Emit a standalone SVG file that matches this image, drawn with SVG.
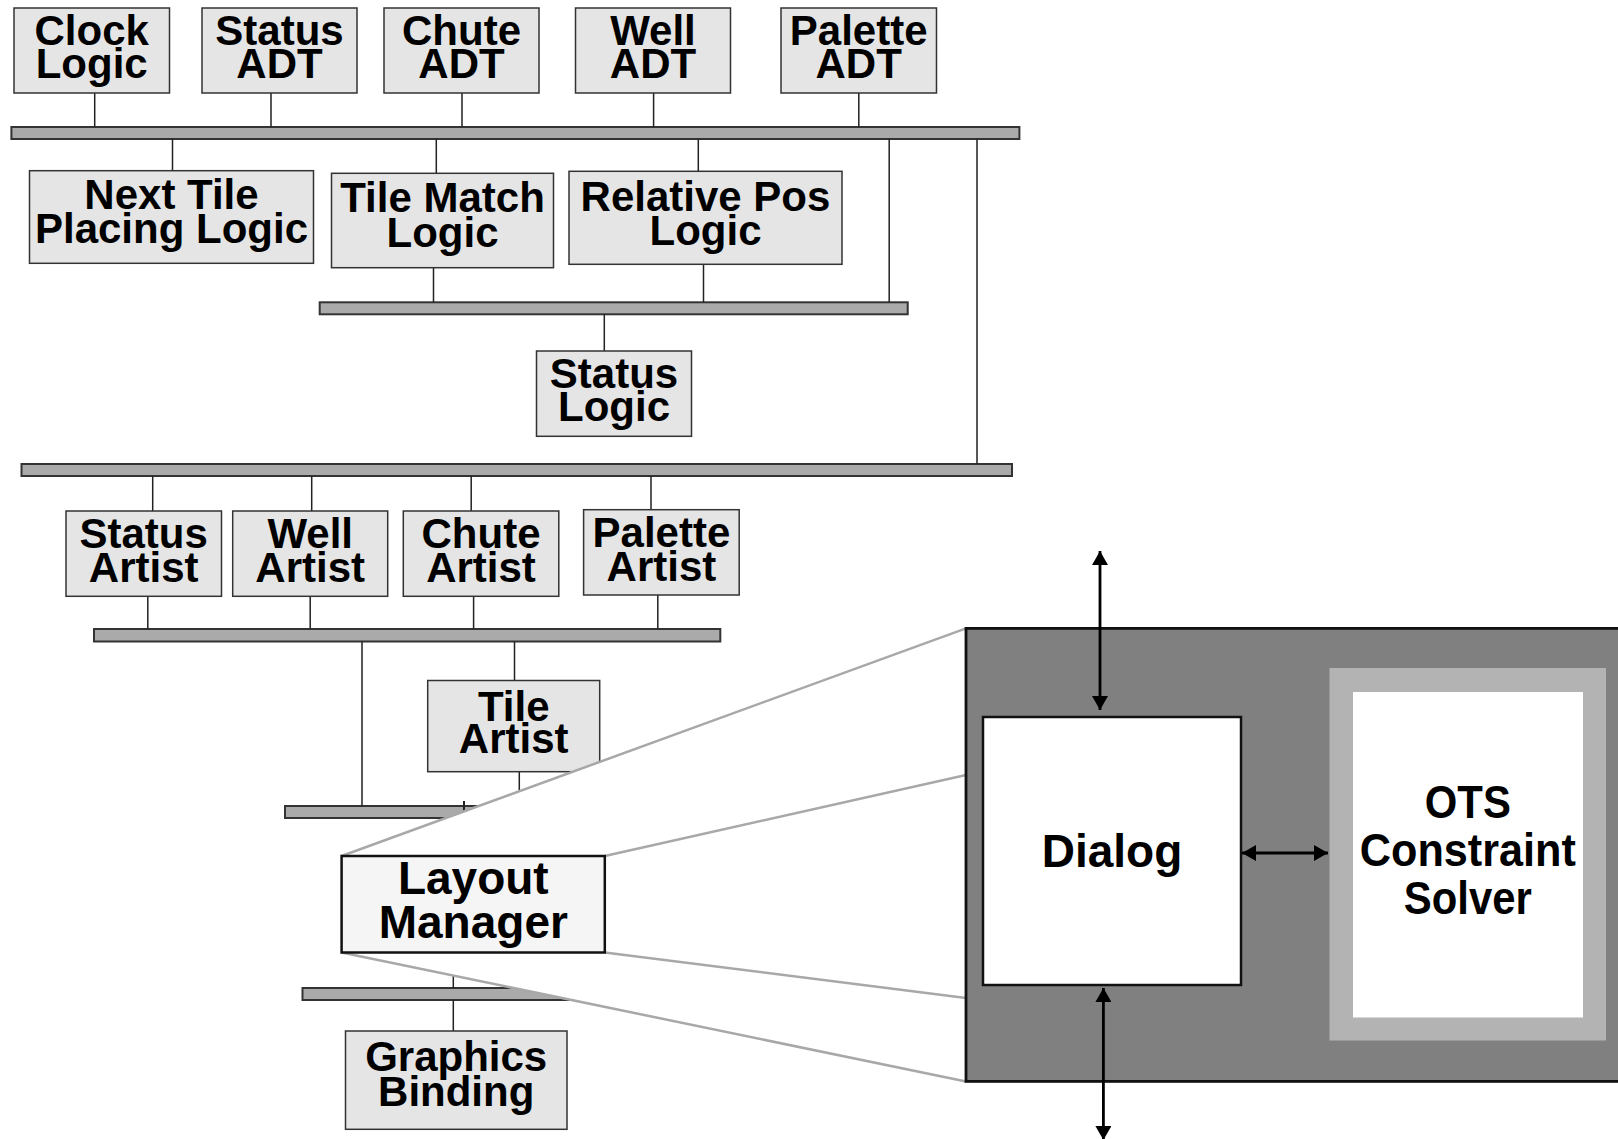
<svg xmlns="http://www.w3.org/2000/svg" width="1618" height="1139" viewBox="0 0 1618 1139">
<style>
.box{fill:#e5e5e5;stroke:#333;stroke-width:1.5}
.bus{fill:#aaa;stroke:#333;stroke-width:2}
.conn{stroke:#222;stroke-width:1.5;fill:none}
.t{font-family:"Liberation Sans",Arial,sans-serif;font-weight:bold;font-size:42px;text-anchor:middle;fill:#000}
.zoom{stroke:#a8a8a8;stroke-width:2.5;fill:none}
.arr{stroke:#000;stroke-width:2.8;fill:none}
</style>
<defs>
<marker id="ah" viewBox="0 0 14 16" refX="14" refY="8" markerWidth="14" markerHeight="16" markerUnits="userSpaceOnUse" orient="auto-start-reverse">
<path d="M0,0 L14,8 L0,16 z" fill="#000"/>
</marker>
</defs>
<rect width="1618" height="1139" fill="#fff"/>
<g id="buses">
<rect class="bus" x="11.4" y="127" width="1008" height="12"/>
<rect class="bus" x="319.7" y="302.3" width="588" height="12"/>
<rect class="bus" x="21.5" y="464" width="990.5" height="12"/>
<rect class="bus" x="94" y="629" width="626.3" height="12.5"/>
<rect class="bus" x="285" y="806" width="335" height="12"/>
<rect class="bus" x="302.5" y="988" width="317.5" height="12"/>
</g>
<g id="connectors">
<path class="conn" d="M94.7,93V127M271,93V127M462,93V127M653.6,93V127M858.8,93V127"/>
<path class="conn" d="M172.5,139V170.7M436.3,139V173.3M698.3,139V171.3M889.2,139V302.3M977,139V464"/>
<path class="conn" d="M433.5,267.7V302.3M703.5,264.3V302.3M604.3,314.3V351"/>
<path class="conn" d="M152.7,476V511M311.7,476V511M471.2,476V511M651,476V509.7"/>
<path class="conn" d="M147.8,596.3V629M310.2,596.3V629M473.6,596.3V629M657.8,595V629"/>
<path class="conn" d="M362,641.5V806M514.5,641.5V680.5M519.3,771.7V806"/>
<path class="conn" d="M464,801V811" style="stroke-width:2"/>
<path class="conn" d="M453.3,952.5V988M453.3,1000V1031"/>
</g>
<g id="clock-logic"><rect class="box" x="14" y="8" width="155.5" height="85"/><text class="t"><tspan x="91.7" y="45">Clock</tspan><tspan x="91.7" y="78">Logic</tspan></text></g>
<g id="status-adt"><rect class="box" x="202" y="8" width="155" height="85"/><text class="t"><tspan x="279.5" y="45">Status</tspan><tspan x="279.5" y="78">ADT</tspan></text></g>
<g id="chute-adt"><rect class="box" x="384" y="8" width="155" height="85"/><text class="t"><tspan x="461.5" y="45">Chute</tspan><tspan x="461.5" y="78">ADT</tspan></text></g>
<g id="well-adt"><rect class="box" x="575.5" y="8" width="155" height="85"/><text class="t"><tspan x="653" y="45">Well</tspan><tspan x="653" y="78">ADT</tspan></text></g>
<g id="palette-adt"><rect class="box" x="781" y="8" width="155.5" height="85"/><text class="t"><tspan x="858.7" y="45">Palette</tspan><tspan x="858.7" y="78">ADT</tspan></text></g>
<g id="next-tile"><rect class="box" x="29.5" y="170.7" width="284" height="92.6"/><text class="t"><tspan x="171.5" y="208.5">Next Tile</tspan><tspan x="171.5" y="242.5">Placing Logic</tspan></text></g>
<g id="tile-match"><rect class="box" x="331.5" y="173.3" width="222" height="94.4"/><text class="t"><tspan x="442.5" y="211.5">Tile Match</tspan><tspan x="442.5" y="247">Logic</tspan></text></g>
<g id="relative-pos"><rect class="box" x="569" y="171.3" width="273" height="93"/><text class="t"><tspan x="705.5" y="211">Relative Pos</tspan><tspan x="705.5" y="245">Logic</tspan></text></g>
<g id="status-logic"><rect class="box" x="536.5" y="351" width="155" height="85.3"/><text class="t"><tspan x="614" y="388">Status</tspan><tspan x="614" y="421">Logic</tspan></text></g>
<g id="status-artist"><rect class="box" x="66" y="511" width="155.5" height="85.3"/><text class="t"><tspan x="143.7" y="548">Status</tspan><tspan x="143.7" y="582">Artist</tspan></text></g>
<g id="well-artist"><rect class="box" x="232.7" y="511" width="155" height="85.3"/><text class="t"><tspan x="310.2" y="548">Well</tspan><tspan x="310.2" y="582">Artist</tspan></text></g>
<g id="chute-artist"><rect class="box" x="403.3" y="511" width="155.5" height="85.3"/><text class="t"><tspan x="481" y="548">Chute</tspan><tspan x="481" y="582">Artist</tspan></text></g>
<g id="palette-artist"><rect class="box" x="583.6" y="509.7" width="155.6" height="85.3"/><text class="t"><tspan x="661.4" y="546.5">Palette</tspan><tspan x="661.4" y="580.5">Artist</tspan></text></g>
<g id="tile-artist"><rect class="box" x="427.7" y="680.5" width="172" height="91.2"/><text class="t"><tspan x="513.7" y="720.5">Tile</tspan><tspan x="513.7" y="752.5">Artist</tspan></text></g>
<g id="graphics-binding"><rect class="box" x="345.5" y="1031" width="221.5" height="98.3"/><text class="t"><tspan x="456.2" y="1071">Graphics</tspan><tspan x="456.2" y="1106">Binding</tspan></text></g>
<g id="zoom-cone">
<polygon points="341.6,856 966,628.4 966,1081.5 341.6,952.5" fill="#fff"/>
<path class="zoom" d="M341.6,856L966,628.4M604.8,856L966,775M604.8,952.5L966,998M341.6,952.5L966,1081.5"/>
</g>
<g id="layout-manager"><rect x="341.6" y="856" width="263.2" height="96.5" fill="#f5f5f5" stroke="#111" stroke-width="2.5"/><text class="t" style="font-size:46px"><tspan x="473.3" y="894">Layout</tspan><tspan x="473.3" y="937.5">Manager</tspan></text></g>
<g id="panel"><rect x="966" y="628.4" width="660" height="453" fill="#808080" stroke="#111" stroke-width="2.8"/></g>
<g id="dialog"><rect x="983" y="717" width="258" height="268" fill="#fff" stroke="#111" stroke-width="2.5"/><text class="t" x="1112" y="866.5" style="font-size:46px">Dialog</text></g>
<g id="ots-solver"><rect x="1329.5" y="668" width="276.5" height="372.5" fill="#b3b3b3"/><rect x="1353" y="692" width="230" height="325.5" fill="#fff"/>
<text style="font-family:'Liberation Sans Narrow','Liberation Sans',Arial,sans-serif;font-weight:bold;font-size:46px;text-anchor:middle" fill="#000"><tspan x="1467.8" y="818" textLength="86" lengthAdjust="spacingAndGlyphs">OTS</tspan><tspan x="1467.8" y="866" textLength="216" lengthAdjust="spacingAndGlyphs">Constraint</tspan><tspan x="1467.8" y="914" textLength="128" lengthAdjust="spacingAndGlyphs">Solver</tspan></text></g>
<g id="arrows">
<line class="arr" x1="1100" y1="551" x2="1100" y2="710" marker-start="url(#ah)" marker-end="url(#ah)"/>
<line class="arr" x1="1103.4" y1="988" x2="1103.4" y2="1140" marker-start="url(#ah)" marker-end="url(#ah)"/>
<line class="arr" x1="1242" y1="853" x2="1328" y2="853" marker-start="url(#ah)" marker-end="url(#ah)"/>
</g>
</svg>
